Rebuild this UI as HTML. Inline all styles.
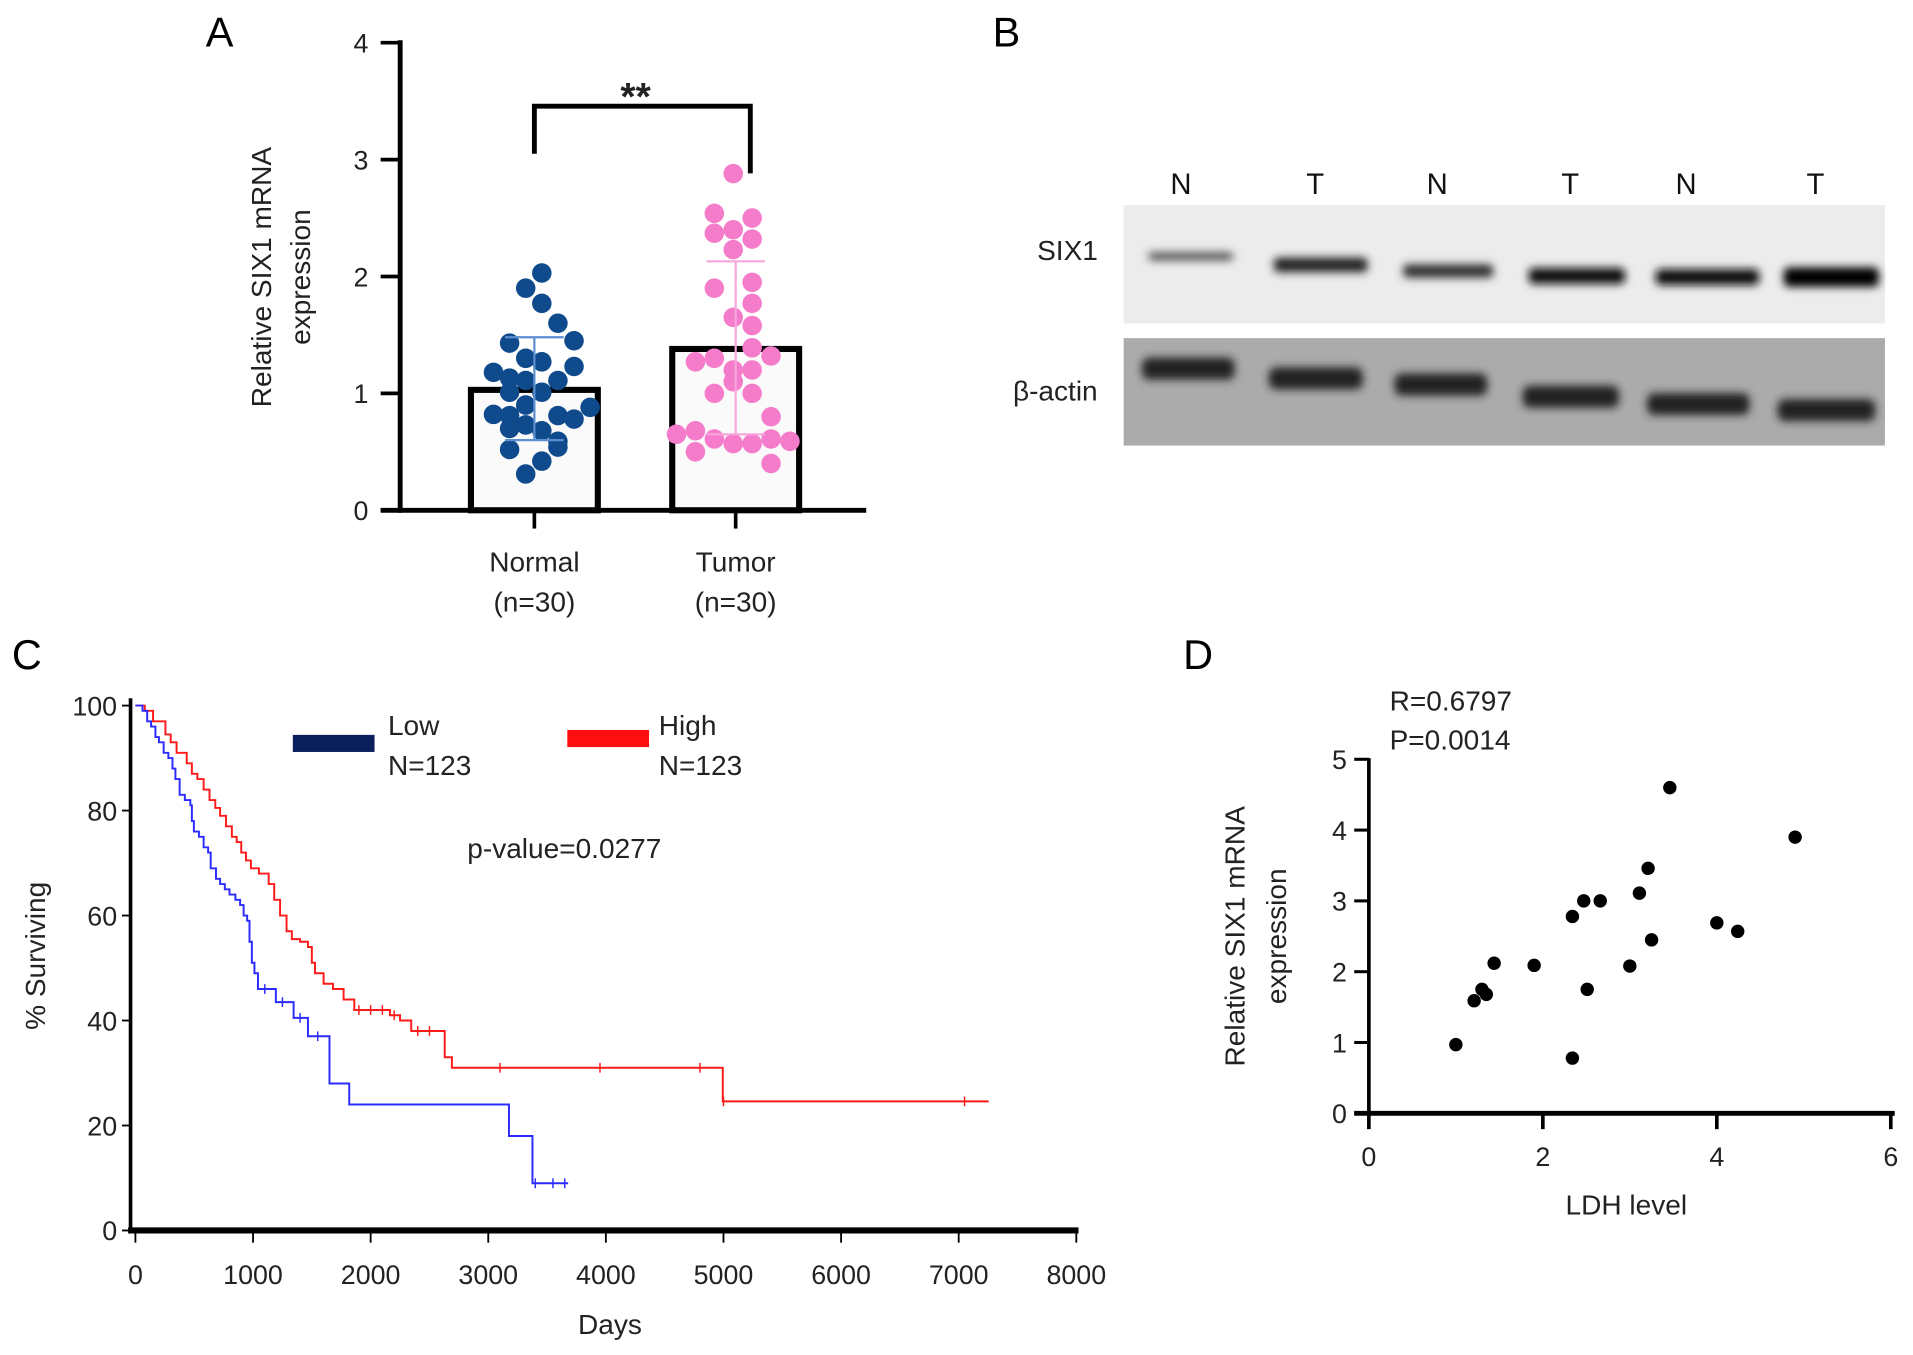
<!DOCTYPE html>
<html><head><meta charset="utf-8"><style>
html,body{margin:0;padding:0;background:#fff;}
svg{display:block;font-family:"Liberation Sans",sans-serif;}
</style></head><body>
<svg id="fig" width="1913" height="1355" viewBox="0 0 1568 1110" preserveAspectRatio="none" xmlns="http://www.w3.org/2000/svg">
<defs>
<filter id="blur" x="-20%" y="-100%" width="140%" height="300%"><feGaussianBlur stdDeviation="3.5"/></filter>
</defs>
<g id="pA"></g>
<g id="pB"></g>
<g id="pC"></g>
<g id="pD"></g>
</svg>
<script>
// ---- Panel A data ----
const aCategories = ["Normal", "Tumor"];
const aMeans = [1.03, 1.38];
const aSDhi = [1.48, 2.13];
const aSDlo = [0.60, 0.65];
const aYTicks = [0, 1, 2, 3, 4];
const normalValues = [2.03,1.90,1.77,1.60,1.43,1.45,1.30,1.27,1.18,1.23,1.13,1.11,1.11,1.01,1.01,0.90,0.82,0.81,0.88,0.81,0.78,0.73,0.70,0.68,0.59,0.52,0.54,0.42,0.31];
const normalCol = [0.5,-0.5,0.5,1.5,-1.5,2.5,-0.5,0.5,-2.5,2.5,-1.5,-0.5,1.5,-1.5,0.5,-0.5,-2.5,-1.5,3.5,1.5,2.5,-0.5,-1.5,0.5,1.5,-1.5,1.5,0.5,-0.5];
const tumorValues = [2.88,2.54,2.50,2.37,2.40,2.32,2.23,1.90,1.95,1.77,1.65,1.58,1.39,1.27,1.30,1.32,1.20,1.20,1.10,1.00,1.00,0.80,0.65,0.68,0.61,0.57,0.57,0.61,0.59,0.50,0.40];
const tumorCol = [0,-1,1,-1,0,1,0,-1,1,1,0,1,1,-2,-1,2,0,1,0,-1,1,2,-3,-2,-1,0,1,2,3,-2,2];
// ---- Panel C data ----
const cXTicks = [0,1000,2000,3000,4000,5000,6000,7000,8000];
const cYTicks = [0,20,40,60,80,100];
const lowDays = [0,60,100,133,170,200,240,280,315,340,376,420,467,480,497,540,580,618,640,685,720,760,800,850,890,920,950,970,990,1012,1042,1194,1345,1467,1650,1818,3176,3376,3679];
const lowSurv = [100,99,97,96,94,93,91,90,88,86,83,82,81,78,76,75,73,72,69,67,66,65,64,63,62,60,59,55,51,49,46,43.5,40.5,37,28,24,18,9,9];
const lowCensor = [1100,1250,1400,1550,3400,3550,3650];
const highDays = [0,80,150,255,300,350,436,480,527,580,630,679,720,770,820,861,900,940,982,1050,1133,1180,1230,1285,1330,1400,1467,1500,1527,1600,1680,1770,1861,2164,2250,2345,2630,2691,4994,7255];
const highSurv = [100,99,97,94.5,93,91,89,87,86,84,82,80.5,79,77,75,74,72,70.5,69,68,66,63,60,57,55.5,55,54,51,49,47,46,44,42,41,40,38,33,31,24.6,24.6];
const highCensor = [1900,2000,2100,2200,2400,2500,3100,3950,4800,5000,7050];
// ---- Panel D data ----
const dXTicks = [0,2,4,6];
const dYTicks = [0,1,2,3,4,5];
const ldhLevel = [1.0,1.21,1.30,1.35,1.44,1.90,2.34,2.47,2.66,2.34,2.51,3.0,3.11,3.21,3.25,3.46,4.0,4.24,4.90];
const six1Expr = [0.97,1.59,1.75,1.68,2.12,2.09,2.78,3.0,3.0,0.78,1.75,2.08,3.11,3.46,2.45,4.6,2.69,2.57,3.9];

const NS="http://www.w3.org/2000/svg";
function mk(parent, tag, attrs, text){
  const e=document.createElementNS(NS,tag);
  for(const k in attrs) e.setAttribute(k,attrs[k]);
  if(text!==undefined) e.textContent=text;
  parent.appendChild(e); return e;
}

// ================= Panel A =================
const A=document.getElementById('pA');
const aY=v=>418-v*95.75;
const aCx=[438,603];
let t=mk(A,'text',{x:180,y:38,'font-size':34,'text-anchor':'middle'},'A');
 
let ax=mk(A,'line',{x1:328,y1:33,x2:328,y2:420,stroke:'#000','stroke-width':4});
 
ax=mk(A,'line',{x1:312,y1:418,x2:710,y2:418,stroke:'#000','stroke-width':4});
 
aYTicks.forEach(v=>{
  const l=mk(A,'line',{x1:312,y1:aY(v),x2:328,y2:aY(v),stroke:'#000','stroke-width':3});
   
  const tx=mk(A,'text',{x:302,y:aY(v)+8,'font-size':22,'text-anchor':'end',fill:'#222'},String(v));
   
});
t=mk(A,'text',{transform:'translate(222,227) rotate(-90)','font-size':23,'text-anchor':'middle',fill:'#222'},'Relative SIX1 mRNA');
 
t=mk(A,'text',{transform:'translate(254,227) rotate(-90)','font-size':23,'text-anchor':'middle',fill:'#222'},'expression');
 
aCategories.forEach((c,i)=>{
  const x=aCx[i];
  const tk=mk(A,'line',{x1:x,y1:418,x2:x,y2:433,stroke:'#000','stroke-width':3});
   
  const b=mk(A,'rect',{x:x-52,y:aY(aMeans[i]),width:104,height:418-aY(aMeans[i]),fill:'#fafafa',stroke:'#000','stroke-width':5});
   
  const l1=mk(A,'text',{x:x,y:468,'font-size':23,'text-anchor':'middle',fill:'#222'},c);
   
  const l2=mk(A,'text',{x:x,y:501,'font-size':23,'text-anchor':'middle',fill:'#222'},'(n=30)');
   
});
function dots(vals, cols, cx, step, color, nm){
  vals.forEach((v,i)=>{
    const d=mk(A,'circle',{cx:cx+cols[i]*step,cy:aY(v),r:8,fill:color});
     
  });
}
dots(normalValues,normalCol,437.5,13.2,'#0e4a8c','normal-dot');
dots(tumorValues,tumorCol,601,15.5,'#f47ccb','tumor-dot');
const ebColors=['#5b8fd0','#f7a6dc'];
aCategories.forEach((c,i)=>{
  const x=aCx[i];
  const g=mk(A,'g',{stroke:ebColors[i],'stroke-width':1.8});
   
  mk(g,'line',{x1:x,y1:aY(aSDhi[i]),x2:x,y2:aY(aSDlo[i])});
  mk(g,'line',{x1:x-24,y1:aY(aSDhi[i]),x2:x+24,y2:aY(aSDhi[i])});
  mk(g,'line',{x1:x-24,y1:aY(aSDlo[i]),x2:x+24,y2:aY(aSDlo[i])});
});
let br=mk(A,'path',{d:'M438 126 V87 H615 V142',fill:'none',stroke:'#000','stroke-width':4});
 
t=mk(A,'text',{x:521,y:90,'font-size':32,'font-weight':'bold','text-anchor':'middle',fill:'#222'},'**');
 

// ================= Panel B =================
const B=document.getElementById('pB');
t=mk(B,'text',{x:825,y:38,'font-size':34,'text-anchor':'middle'},'B');
 
const laneLabels=['N','T','N','T','N','T'];
const laneX=[968,1078,1178,1287,1382,1488];
laneLabels.forEach((L,i)=>{
  const e=mk(B,'text',{x:laneX[i],y:159,'font-size':24,'text-anchor':'middle',fill:'#111'},L);
   
});
t=mk(B,'text',{x:875,y:213,'font-size':23,'text-anchor':'middle',fill:'#222'},'SIX1');
 
t=mk(B,'text',{x:865,y:328,'font-size':23,'text-anchor':'middle',fill:'#222'},'β-actin');
 
let bl=mk(B,'rect',{x:921,y:168,width:624,height:97,fill:'#ececec'});
 
bl=mk(B,'rect',{x:921,y:277,width:624,height:88,fill:'#ababab'});
 
const six1Bands=[[941,1011,210,7,'#555'],[1044,1121,217,12,'#222'],[1150,1224,222,11,'#333'],[1253,1332,226,13,'#111'],[1357,1442,227,13,'#111'],[1462,1540,227,16,'#000']];
six1Bands.forEach(b=>{
  const e=mk(B,'rect',{x:b[0],y:b[2]-b[3]/2,width:b[1]-b[0],height:b[3],rx:4,fill:b[4],filter:'url(#blur)'});
   
});
const actinBands=[[936,1012,302],[1040,1117,310],[1143,1219,315],[1248,1327,325],[1350,1434,331],[1457,1537,336]];
actinBands.forEach(b=>{
  const e=mk(B,'rect',{x:b[0],y:b[2]-9,width:b[1]-b[0],height:18,rx:6,fill:'#222',filter:'url(#blur)'});
   
});

// ================= Panel C =================
const C=document.getElementById('pC');
const cX=d=>111+d*0.0964, cY=s=>1008-s*4.3;
t=mk(C,'text',{x:22,y:548,'font-size':34,'text-anchor':'middle'},'C');
 
ax=mk(C,'line',{x1:107,y1:572,x2:107,y2:1010,stroke:'#000','stroke-width':3});
 
ax=mk(C,'line',{x1:105,y1:1008,x2:884,y2:1008,stroke:'#000','stroke-width':5});
 
cXTicks.forEach(v=>{
  const l=mk(C,'line',{x1:cX(v),y1:1008,x2:cX(v),y2:1018,stroke:'#000','stroke-width':1.5});
   
  const tx=mk(C,'text',{x:cX(v),y:1052,'font-size':22,'text-anchor':'middle',fill:'#222'},String(v));
   
});
cYTicks.forEach(v=>{
  const l=mk(C,'line',{x1:100,y1:cY(v),x2:107,y2:cY(v),stroke:'#000','stroke-width':1.5});
   
  const tx=mk(C,'text',{x:96,y:cY(v)+8,'font-size':22,'text-anchor':'end',fill:'#222'},String(v));
   
});
t=mk(C,'text',{x:500,y:1093,'font-size':23,'text-anchor':'middle',fill:'#222'},'Days');
 
t=mk(C,'text',{transform:'translate(37,783) rotate(-90)','font-size':23,'text-anchor':'middle',fill:'#222'},'% Surviving');
 
function stepPath(days,surv){
  let d='M'+cX(days[0])+' '+cY(surv[0]);
  for(let i=1;i<days.length;i++){ d+=' H'+cX(days[i])+' V'+cY(surv[i]); }
  return d;
}
function survAt(days,surv,x){ let s=surv[0]; for(let i=0;i<days.length;i++){ if(days[i]<=x) s=surv[i]; } return s; }
let p=mk(C,'path',{d:stepPath(highDays,highSurv),fill:'none',stroke:'#ff1a1a','stroke-width':1.6});
 
highCensor.forEach(x=>{const c=mk(C,'line',{x1:cX(x),x2:cX(x),y1:cY(survAt(highDays,highSurv,x))-4,y2:cY(survAt(highDays,highSurv,x))+4,stroke:'#ff1a1a','stroke-width':1.2});
   });
p=mk(C,'path',{d:stepPath(lowDays,lowSurv),fill:'none',stroke:'#2b2bff','stroke-width':1.6});
 
lowCensor.forEach(x=>{const c=mk(C,'line',{x1:cX(x),x2:cX(x),y1:cY(survAt(lowDays,lowSurv,x))-4,y2:cY(survAt(lowDays,lowSurv,x))+4,stroke:'#2b2bff','stroke-width':1.2});
   });
let lg=mk(C,'g',{});
 
mk(lg,'rect',{x:240,y:602,width:67,height:14,fill:'#0a1f5c'});
mk(lg,'text',{x:318,y:602,'font-size':23,fill:'#222'},'Low');
mk(lg,'text',{x:318,y:635,'font-size':23,fill:'#222'},'N=123');
lg=mk(C,'g',{});
 
mk(lg,'rect',{x:465,y:598,width:67,height:14,fill:'#ff1010'});
mk(lg,'text',{x:540,y:602,'font-size':23,fill:'#222'},'High');
mk(lg,'text',{x:540,y:635,'font-size':23,fill:'#222'},'N=123');
t=mk(C,'text',{x:383,y:703,'font-size':23,fill:'#222'},'p-value=0.0277');
 

// ================= Panel D =================
const D=document.getElementById('pD');
const dX=v=>1122+v*71.3, dY=v=>912-v*58;
t=mk(D,'text',{x:982,y:548,'font-size':34,'text-anchor':'middle'},'D');
 
t=mk(D,'text',{x:1139,y:582,'font-size':23,fill:'#222'},'R=0.6797');
 
t=mk(D,'text',{x:1139,y:614,'font-size':23,fill:'#222'},'P=0.0014');
 
ax=mk(D,'line',{x1:1122,y1:621,x2:1122,y2:914,stroke:'#000','stroke-width':3});
 
ax=mk(D,'line',{x1:1110,y1:912,x2:1553,y2:912,stroke:'#000','stroke-width':4});
 
dYTicks.forEach(v=>{
  const l=mk(D,'line',{x1:1110,y1:dY(v),x2:1122,y2:dY(v),stroke:'#000','stroke-width':2.5});
   
  const tx=mk(D,'text',{x:1104,y:dY(v)+8,'font-size':22,'text-anchor':'end',fill:'#222'},String(v));
   
});
dXTicks.forEach(v=>{
  const l=mk(D,'line',{x1:dX(v),y1:912,x2:dX(v),y2:925,stroke:'#000','stroke-width':3});
   
  const tx=mk(D,'text',{x:dX(v),y:955,'font-size':22,'text-anchor':'middle',fill:'#222'},String(v));
   
});
t=mk(D,'text',{x:1333,y:995,'font-size':23,'text-anchor':'middle',fill:'#222'},'LDH level');
 
t=mk(D,'text',{transform:'translate(1020,767) rotate(-90)','font-size':23,'text-anchor':'middle',fill:'#222'},'Relative SIX1 mRNA');
 
t=mk(D,'text',{transform:'translate(1054,767) rotate(-90)','font-size':23,'text-anchor':'middle',fill:'#222'},'expression');
 
ldhLevel.forEach((x,i)=>{
  const c=mk(D,'circle',{cx:dX(x),cy:dY(six1Expr[i]),r:5.5,fill:'#000'});
   
});
</script>
</body></html>
